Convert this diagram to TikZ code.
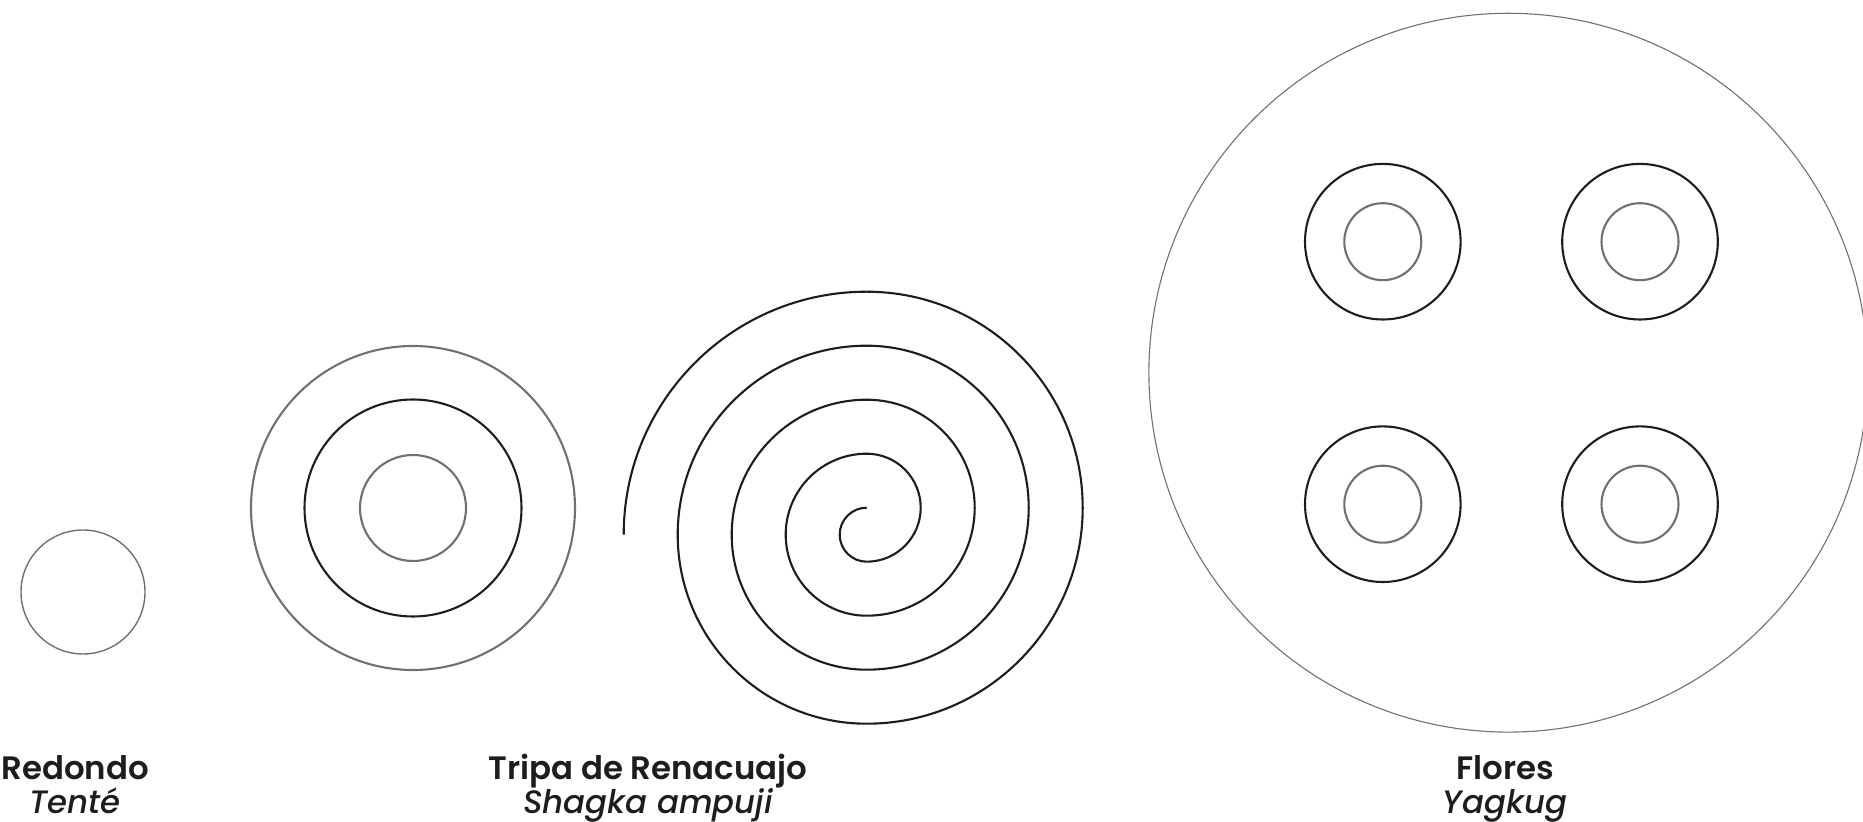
\documentclass[tikz,border=0pt]{standalone}
\usepackage{fontspec}
\setmainfont{Poppins}[BoldFont={Poppins SemiBold}, ItalicFont={Poppins Medium Italic}]
\definecolor{ink}{HTML}{1E1C1D}
\definecolor{grayline}{HTML}{707070}
\tikzset{
  blackring/.style={draw=ink, line width=1.05pt},
  grayring/.style={draw=grayline, line width=1.05pt},
  thinring/.style={draw=grayline, line width=0.55pt},
  titletext/.style={anchor=base, font=\fontsize{16.2}{17}\selectfont\bfseries, text=ink, inner sep=0pt},
  subtext/.style={anchor=base, font=\fontsize{16.2}{17}\selectfont\itshape, text=ink, inner sep=0pt}
}
\begin{document}
\begin{tikzpicture}[x=0.5pt, y=-0.5pt]
\useasboundingbox (0,0) rectangle (1863,822);
\clip (0,0) rectangle (1863,822);
% Redondo
\draw[thinring, line width=0.7pt] (83,592) circle[radius=62];
% concentric
\draw[grayring] (413,508) circle[radius=162];
\draw[blackring] (413,508) circle[radius=108.5];
\draw[grayring] (413,508) circle[radius=53];
% spiral
\draw[blackring, line cap=butt]
  (866.7,507.7) arc[start angle=270, end angle=90, radius=27]
  arc[start angle=90, end angle=-90, radius=54]
  arc[start angle=270, end angle=90, radius=81]
  arc[start angle=90, end angle=-90, radius=108]
  arc[start angle=270, end angle=90, radius=135]
  arc[start angle=90, end angle=-90, radius=162]
  arc[start angle=270, end angle=90, radius=189]
  arc[start angle=90, end angle=-90, radius=216]
  arc[start angle=270, end angle=180, radius=243];
% Flores
\draw[thinring] (1508.3,372.7) circle[radius=359.4];
\foreach \cx/\cy in {1382.8/241.7, 1640/241.7, 1382.8/504.2, 1640/504.2}{
  \draw[blackring] (\cx,\cy) circle[radius=77.8];
  \draw[grayring] (\cx,\cy) circle[radius=38.5];
}
% labels
\node[titletext] (t1) at (75,779) {Redondo};
\node[subtext] (s1) at (75,813) {Tenté};
\node[titletext] (t2) at (648,779) {Tripa de Renacuajo};
\node[subtext] (s2) at (648,813) {Shagka ampuji};
\node[titletext] (t3) at (1505,779) {Flores};
\node[subtext] (s3) at (1505,813) {Yagkug};
\end{tikzpicture}
\end{document}
